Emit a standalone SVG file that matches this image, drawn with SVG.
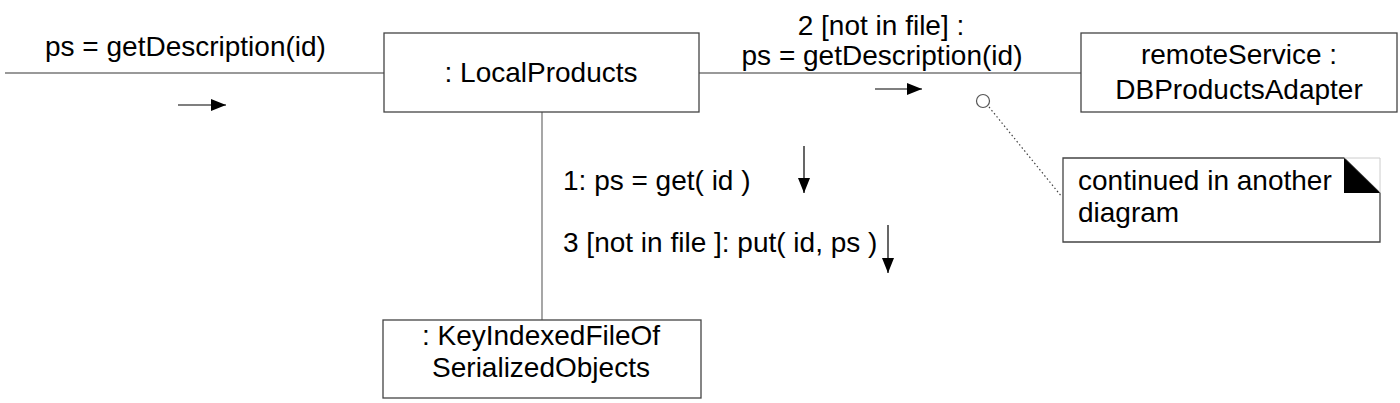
<svg xmlns="http://www.w3.org/2000/svg" width="1400" height="403" viewBox="0 0 1400 403">
<style>
text{font-family:"Liberation Sans",Arial,sans-serif;font-size:28px;fill:#000}
.box{fill:#fff;stroke:#444;stroke-width:1.3}
.link{stroke:#777;stroke-width:1.3;fill:none}
.msg{stroke:#000;stroke-width:1.2;fill:none}
.mid{text-anchor:middle}
</style>
<defs>
<marker id="ah" markerWidth="16" markerHeight="12" refX="15" refY="6" orient="auto" markerUnits="userSpaceOnUse">
<path d="M0,0 L15,6 L0,12 Z" fill="#000"/>
</marker>
</defs>
<g id="connectors">
<line class="link" x1="5" y1="73" x2="384" y2="73"/>
<line class="link" x1="699" y1="73" x2="1081" y2="73"/>
<line class="link" x1="542" y1="112" x2="542" y2="320"/>
<line x1="989" y1="107" x2="1062" y2="197" stroke="#444" stroke-width="1.2" stroke-dasharray="1.5,2.5"/>
<circle cx="983" cy="101" r="6.5" fill="#fff" stroke="#555" stroke-width="1.2"/>
<line class="msg" x1="178" y1="105" x2="226" y2="105" marker-end="url(#ah)"/>
<text x="45" y="56">ps = getDescription(id)</text>
<line class="msg" x1="875" y1="89" x2="922" y2="89" marker-end="url(#ah)"/>
<text class="mid" x="881" y="35">2 [not in file] :</text>
<text class="mid" x="882" y="65">ps = getDescription(id)</text>
<line class="msg" x1="804" y1="146" x2="804" y2="193" marker-end="url(#ah)"/>
<text x="563" y="190">1: ps = get( id )</text>
<line class="msg" x1="888" y1="225" x2="888" y2="273" marker-end="url(#ah)"/>
<text x="563" y="252">3 [not in file ]: put( id, ps )</text>
</g>
<g id="localProducts">
<rect class="box" x="384" y="33" width="315" height="79"/>
<text class="mid" x="541" y="82">: LocalProducts</text>
</g>
<g id="remoteService">
<rect class="box" x="1081" y="33" width="316" height="79"/>
<text class="mid" x="1239" y="64">remoteService :</text>
<text class="mid" x="1239" y="99">DBProductsAdapter</text>
</g>
<g id="keyIndexedFile">
<rect class="box" x="383" y="320" width="318" height="78"/>
<text class="mid" x="541" y="345">: KeyIndexedFileOf</text>
<text class="mid" x="541" y="377">SerializedObjects</text>
</g>
<g id="note">
<path d="M1063,158 L1344,158 L1380,193 L1380,242 L1063,242 Z" fill="#fff" stroke="#444" stroke-width="1.3"/>
<path d="M1344,158 L1380,158 L1380,193" fill="none" stroke="#ccc" stroke-width="1"/>
<path d="M1344,158 L1380,193 L1344,193 Z" fill="#000"/>
<text x="1078" y="190">continued in another</text>
<text x="1078" y="222">diagram</text>
</g>
</svg>
